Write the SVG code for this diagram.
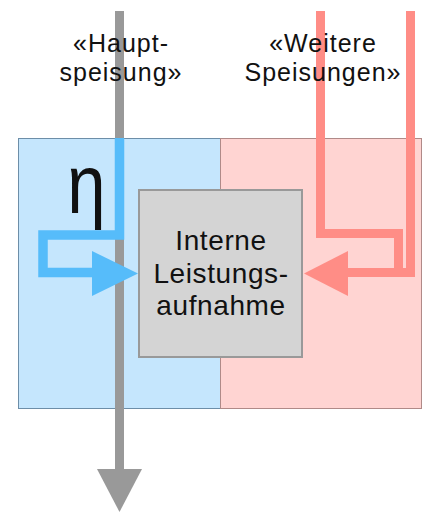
<svg xmlns="http://www.w3.org/2000/svg" width="422" height="513" viewBox="0 0 422 513">
  <style>
    .lbl { font-family: "Liberation Sans", Arial, sans-serif; font-size: 25px; letter-spacing: 1px; fill: #111; text-anchor: middle; }
    .box { font-family: "Liberation Sans", Arial, sans-serif; font-size: 28px; letter-spacing: 0.6px; fill: #111; text-anchor: middle; }
    .eta { font-family: "Liberation Sans", Arial, sans-serif; font-size: 84px; fill: #111; text-anchor: middle; }
    .flow { fill: none; stroke-linejoin: miter; stroke-linecap: butt; }
  </style>
  <rect width="422" height="513" fill="#ffffff"/>
  <g id="bereich-haupt">
    <rect x="18.5" y="138.5" width="202" height="270" fill="#c5e6fd" stroke="#6d8ea8" stroke-width="1"/>
  </g>
  <g id="bereich-weitere">
    <rect x="220.5" y="138.5" width="201" height="270" fill="#ffd4d2" stroke="#b08a88" stroke-width="1"/>
  </g>
  <g id="connectors">
    <path class="flow" d="M119.5 11 V470" stroke="#999999" stroke-width="9"/>
    <polygon points="97,469 142,469 119.5,512" fill="#999999"/>
    <path class="flow" d="M119.5 138 V235 H43 V272.5 H93" stroke="#56bcfa" stroke-width="9.5"/>
    <polygon points="92,251 138,273.5 92,296" fill="#56bcfa"/>
    <path class="flow" d="M320.5 11 V233.5 H398.5 V273" stroke="#ff8d86" stroke-width="9"/>
    <path class="flow" d="M410.5 11 V272.5 H347" stroke="#ff8d86" stroke-width="9"/>
    <polygon points="348,251 304,273.5 348,296" fill="#ff8d86"/>
  </g>
  <g id="label-hauptspeisung">
    <text class="lbl" x="121" y="52">«Haupt-</text>
    <text class="lbl" x="121" y="81">speisung»</text>
  </g>
  <g id="label-weitere">
    <text class="lbl" x="323" y="52">«Weitere</text>
    <text class="lbl" x="323" y="81">Speisungen»</text>
  </g>
  <g id="eta">
    <text class="eta" transform="translate(86.5,213) scale(0.82,1)" x="0" y="0">η</text>
  </g>
  <g id="interne-leistungsaufnahme">
    <rect x="139" y="190" width="163" height="167" fill="#d4d4d4" stroke="#999999" stroke-width="2"/>
    <text class="box" x="221" y="250">Interne</text>
    <text class="box" x="221" y="283">Leistungs-</text>
    <text class="box" x="221" y="315">aufnahme</text>
  </g>
</svg>
